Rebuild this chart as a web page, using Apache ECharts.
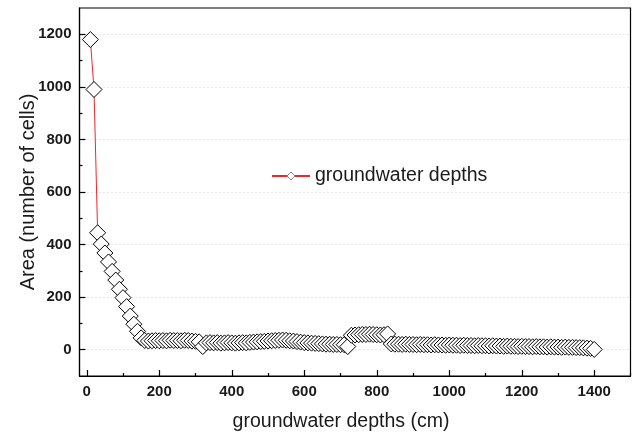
<!DOCTYPE html>
<html>
<head>
<meta charset="utf-8">
<script src="https://cdn.jsdelivr.net/npm/echarts@6/dist/echarts.min.js"></script>
<style>
html,body{margin:0;padding:0;background:#fff;}
#chart{width:633px;height:432px;}
</style>
</head>
<body>
<div id="chart"></div>
<script>
// groundwater depth (cm)
var depths = [
  10,20,30,40,50,60,70,80,90,100,
  110,120,130,140,150,160,170,180,190,200,
  210,220,230,240,250,260,270,280,290,300,
  310,320,330,340,350,360,370,380,390,400,
  410,420,430,440,450,460,470,480,490,500,
  510,520,530,540,550,560,570,580,590,600,
  610,620,630,640,650,660,670,680,690,700,
  710,720,730,740,750,760,770,780,790,800,
  810,820,830,840,850,860,870,880,890,900,
  910,920,930,940,950,960,970,980,990,1000,
  1010,1020,1030,1040,1050,1060,1070,1080,1090,1100,
  1110,1120,1130,1140,1150,1160,1170,1180,1190,1200,
  1210,1220,1230,1240,1250,1260,1270,1280,1290,1300,
  1310,1320,1330,1340,1350,1360,1370,1380,1390,1400
];
// area (number of cells)
var areas = [
  1180,990,445,402,368,334,298,265,230,198,
  164,128,97,70,45,35,33,34,35,34,
  35,34,36,35,35,34,36,35,33,32,
  30,12,26,27,26,27,25,26,27,26,
  25,26,27,26,28,29,30,31,32,33,
  34,35,36,37,36,34,33,31,29,27,
  26,25,24,23,22,21,21,20,20,19,
  19,12,55,56,57,58,58,59,58,57,
  56,57,60,22,21,21,20,21,20,20,
  19,20,19,19,18,19,18,18,17,18,
  17,17,16,17,16,16,15,16,15,15,
  14,15,14,14,13,14,13,13,12,13,
  12,12,11,12,11,11,10,11,10,10,
  9,10,9,9,8,8,7,6,5,1
];
var xMajorTicks = [0,200,400,600,800,1000,1200,1400];
var xMinorTicks = [100,300,500,700,900,1100,1300,1500];
var yMajorTicks = [0,200,400,600,800,1000,1200];
var yMinorTicks = [100,300,500,700,900,1100];
var seriesName = 'groundwater depths';
var xTitle = 'groundwater depths (cm)';
var yTitle = 'Area (number of cells)';

var points = depths.map(function(d, i){ return [d, areas[i]]; });

var fontFam = '"Liberation Sans", Arial, sans-serif';
function plain(v){ return String(v); }
var labelStyle = {fontFamily: fontFam, fontSize: 15, fontWeight: 'bold', color: '#1a1a1a', formatter: plain};

var chart = echarts.init(document.getElementById('chart'), null, {renderer: 'canvas'});
chart.setOption({
  animation: false,
  backgroundColor: '#fff',
  grid: {left: 79.5, right: 2.5, top: 8, bottom: 56, containLabel: false, outerBoundsMode: 'none',
         show: true, borderColor: '#000', borderWidth: 1.2, backgroundColor: 'transparent'},
  legend: {
    data: [seriesName],
    left: 266, top: 161,
    itemWidth: 38, itemHeight: 10,
    itemStyle: {borderColor: '#888', borderWidth: 1, color: '#fff'},
    textStyle: {fontFamily: fontFam, fontSize: 19.5, color: '#1a1a1a'}
  },
  xAxis: [{
    type: 'value', min: -20, max: 1500, position: 'bottom',
    name: xTitle, nameLocation: 'middle', nameGap: 36, nameMoveOverlap: false,
    nameTextStyle: {fontFamily: fontFam, fontSize: 19.5, color: '#1a1a1a', padding: [0, 28, 0, 0]},
    axisLine: {show: true, onZero: false, lineStyle: {color: '#000', width: 1.2}},
    axisTick: {show: true, inside: true, length: 6, customValues: xMajorTicks, lineStyle: {color: '#000', width: 1.2}},
    axisLabel: Object.assign({margin: 8, customValues: xMajorTicks}, labelStyle),
    splitLine: {show: false}
  }, {
    type: 'value', min: -20, max: 1500, position: 'bottom', offset: 0,
    axisLine: {show: false, onZero: false},
    axisTick: {show: true, inside: true, length: 3, customValues: xMinorTicks, lineStyle: {color: '#000', width: 1.2}},
    axisLabel: {show: false},
    splitLine: {show: false}
  }],
  yAxis: [{
    type: 'value', min: -100, max: 1300, splitNumber: 7, position: 'left',
    name: yTitle, nameLocation: 'middle', nameGap: 41, nameMoveOverlap: false,
    nameTextStyle: {fontFamily: fontFam, fontSize: 20, color: '#1a1a1a'},
    axisLine: {show: true, onZero: false, lineStyle: {color: '#000', width: 1.2}},
    axisTick: {show: true, inside: true, length: 6, customValues: yMajorTicks, lineStyle: {color: '#000', width: 1.2}},
    axisLabel: Object.assign({margin: 8, customValues: yMajorTicks}, labelStyle),
    splitLine: {show: true, lineStyle: {color: '#cfcfcf', width: 1, type: [1, 3]}}
  }, {
    type: 'value', min: -100, max: 1300, position: 'left', offset: 0,
    axisLine: {show: false, onZero: false},
    axisTick: {show: true, inside: true, length: 3, customValues: yMinorTicks, lineStyle: {color: '#000', width: 1.2}},
    axisLabel: {show: false},
    splitLine: {show: false}
  }],
  series: [{
    name: seriesName,
    type: 'line',
    xAxisIndex: 0, yAxisIndex: 0,
    data: points,
    symbol: 'diamond',
    symbolSize: 16,
    showAllSymbol: true,
    lineStyle: {color: '#ff2020', width: 1},
    itemStyle: {color: '#ffffff', borderColor: '#000', borderWidth: 1},
    emphasis: {disabled: true}
  }]
});
</script>
</body>
</html>
